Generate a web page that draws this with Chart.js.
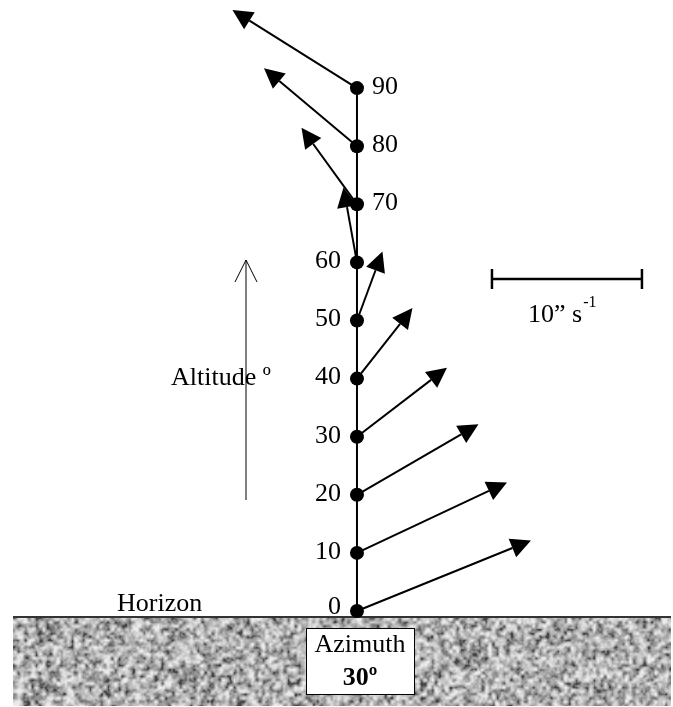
<!DOCTYPE html>
<html>
<head>
<meta charset="utf-8">
<script src="https://cdn.jsdelivr.net/npm/chart.js@4.4.0/dist/chart.umd.min.js"></script>
<style>
    html, body { margin: 0; padding: 0; background: #fff; }
    canvas { display: block; }
</style>
</head>
<body>
<canvas id="grafico" width="673" height="707"></canvas>
<script>
// Altitudes (graus) ao longo do azimute 30º
const altitudes = [0, 10, 20, 30, 40, 50, 60, 70, 80, 90];
// Componentes dos vetores de velocidade (" s^-1)
const velX = [11.6, 10.0, 8.1, 6.0, 3.7, 1.7, -0.9, -3.7, -6.2, -8.3];
const velY = [4.7, 4.7, 4.7, 4.6, 4.7, 4.6, 5.0, 5.1, 5.2, 5.2];
// Rótulos
const rotulosAltitude = altitudes.map(a => String(a));
const escalaValor = 10;
const escalaTexto = '10\u201D s';
const escalaExpoente = '-1';
const azimuteTexto = ['Azimuth', '30\u00BA'];
const horizonteTexto = 'Horizon';
const eixoTexto = 'Altitude \u00BA';

const fonte = "'Liberation Serif', 'Times New Roman', serif";

// Textura do chão (ruído determinístico, só decoração)
function ruido(i, j, semente) {
    const s = Math.sin(i * 12.9898 + j * 78.233 + semente * 37.719) * 43758.5453;
    return s - Math.floor(s);
}

function camada(w, h, cel, semente) {
    const sw = Math.ceil(w / cel) + 1, sh = Math.ceil(h / cel) + 1;
    const pequeno = document.createElement('canvas');
    pequeno.width = sw; pequeno.height = sh;
    const pc = pequeno.getContext('2d');
    const img = pc.createImageData(sw, sh);
    for (let j = 0; j < sh; j++) {
        for (let i = 0; i < sw; i++) {
            const g = Math.round(ruido(i, j, semente) * 255);
            const k = (j * sw + i) * 4;
            img.data[k] = g; img.data[k + 1] = g; img.data[k + 2] = g; img.data[k + 3] = 255;
        }
    }
    pc.putImageData(img, 0, 0);
    return pequeno;
}

function texturaChao(w, h) {
    const grande = document.createElement('canvas');
    grande.width = w; grande.height = h;
    const gc = grande.getContext('2d');
    gc.imageSmoothingEnabled = true;
    const c1 = camada(w, h, 3.6, 1);
    const c2 = camada(w, h, 2, 2);
    gc.drawImage(c1, 0, 0, c1.width * 3.6, c1.height * 3.6);
    gc.globalAlpha = 0.3;
    gc.drawImage(c2, 0, 0, c2.width * 2, c2.height * 2);
    gc.globalAlpha = 1;
    // contraste e tom
    const dados = gc.getImageData(0, 0, w, h);
    for (let k = 0; k < dados.data.length; k += 4) {
        let v = dados.data[k] / 255;
        v = 0.5 + (v - 0.5) * 1.6;
        v = Math.min(1, Math.max(0, v));
        v = Math.pow(v, 0.6);
        const g = Math.round(70 + v * 165);
        dados.data[k] = g; dados.data[k + 1] = g; dados.data[k + 2] = g;
    }
    gc.putImageData(dados, 0, 0);
    return grande;
}

function seta(ctx, x1, y1, x2, y2, comp, larg) {
    const ang = Math.atan2(y2 - y1, x2 - x1);
    const bx = x2 - comp * Math.cos(ang), by = y2 - comp * Math.sin(ang);
    ctx.beginPath();
    ctx.moveTo(x1, y1);
    ctx.lineTo(bx, by);
    ctx.stroke();
    ctx.beginPath();
    ctx.moveTo(x2, y2);
    ctx.lineTo(bx + larg * Math.sin(ang), by - larg * Math.cos(ang));
    ctx.lineTo(bx - larg * Math.sin(ang), by + larg * Math.cos(ang));
    ctx.closePath();
    ctx.fill();
}

const desenhoVetores = {
    id: 'desenhoVetores',
    beforeDatasetsDraw(chart) {
        const ctx = chart.ctx;
        const xs = chart.scales.x, ys = chart.scales.y;
        const x0 = xs.getPixelForValue(0);
        const pxUnidade = xs.getPixelForValue(1) - xs.getPixelForValue(0);
        const yHorizonte = ys.getPixelForValue(0) + 6;
        ctx.save();

        // chão
        const chaoX = 13, chaoW = chart.width - chaoX - 2;
        const chaoH = chart.height - yHorizonte;
        ctx.drawImage(texturaChao(chaoW, chaoH), chaoX, yHorizonte);
        ctx.strokeStyle = '#333';
        ctx.lineWidth = 2;
        ctx.beginPath();
        ctx.moveTo(chaoX, yHorizonte);
        ctx.lineTo(chaoX + chaoW, yHorizonte);
        ctx.stroke();

        // vetores
        ctx.strokeStyle = '#000';
        ctx.fillStyle = '#000';
        ctx.lineWidth = 2;
        altitudes.forEach((alt, i) => {
            const y = ys.getPixelForValue(alt);
            seta(ctx, x0, y, x0 + velX[i] * pxUnidade, y - velY[i] * pxUnidade, 20, 10);
        });

        // rótulos de altitude
        ctx.font = '26px ' + fonte;
        ctx.textBaseline = 'middle';
        altitudes.forEach((alt, i) => {
            const y = ys.getPixelForValue(alt) - 1;
            if (alt >= 70) {
                ctx.textAlign = 'left';
                ctx.fillText(rotulosAltitude[i], x0 + 15, y);
            } else {
                ctx.textAlign = 'right';
                ctx.fillText(rotulosAltitude[i], x0 - 16, alt === 0 ? y - 3 : y);
            }
        });

        // horizonte e eixo
        ctx.textAlign = 'left';
        ctx.textBaseline = 'alphabetic';
        ctx.fillText(horizonteTexto, 117, yHorizonte - 6);
        ctx.textBaseline = 'middle';
        ctx.fillText(eixoTexto, 171, 378);

        // seta da altitude
        ctx.lineWidth = 1;
        ctx.beginPath();
        ctx.moveTo(246, 500);
        ctx.lineTo(246, 260);
        ctx.moveTo(235, 282);
        ctx.lineTo(246, 260);
        ctx.lineTo(257, 282);
        ctx.stroke();

        // barra de escala
        const ex1 = xs.getPixelForValue(9), ex2 = xs.getPixelForValue(9 + escalaValor);
        const ey = 279;
        ctx.lineWidth = 2.5;
        ctx.beginPath();
        ctx.moveTo(ex1, ey); ctx.lineTo(ex2, ey);
        ctx.moveTo(ex1, ey - 10); ctx.lineTo(ex1, ey + 10);
        ctx.moveTo(ex2, ey - 10); ctx.lineTo(ex2, ey + 10);
        ctx.stroke();
        ctx.textBaseline = 'alphabetic';
        ctx.textAlign = 'left';
        ctx.font = '26px ' + fonte;
        ctx.fillText(escalaTexto, 528, 322);
        const wTexto = ctx.measureText(escalaTexto).width;
        ctx.font = '16px ' + fonte;
        ctx.fillText(escalaExpoente, 528 + wTexto + 1, 307);

        // caixa do azimute
        const bx = 306, by = yHorizonte + 11, bw = 108, bh = 66;
        ctx.fillStyle = '#fff';
        ctx.fillRect(bx, by, bw, bh);
        ctx.strokeStyle = '#000';
        ctx.lineWidth = 1;
        ctx.strokeRect(bx + 0.5, by + 0.5, bw, bh);
        ctx.fillStyle = '#000';
        ctx.textAlign = 'center';
        ctx.textBaseline = 'middle';
        ctx.font = '26px ' + fonte;
        ctx.fillText(azimuteTexto[0], bx + bw / 2, by + 17);
        ctx.font = 'bold 26px ' + fonte;
        ctx.fillText(azimuteTexto[1], bx + bw / 2, by + 50);

        ctx.restore();
    }
};

new Chart(document.getElementById('grafico').getContext('2d'), {
    type: 'scatter',
    data: {
        datasets: [{
            data: altitudes.map(a => ({ x: 0, y: a })),
            showLine: true,
            borderColor: '#000',
            borderWidth: 2,
            pointRadius: 7,
            pointBackgroundColor: '#000',
            pointBorderWidth: 0
        }]
    },
    options: {
        responsive: false,
        animation: false,
        layout: { padding: 0, autoPadding: false },
        scales: {
            x: { type: 'linear', display: false, min: -23.8, max: 21.07 },
            y: { type: 'linear', display: false, min: -16.52, max: 105.16 }
        },
        plugins: { legend: { display: false }, tooltip: { enabled: false } }
    },
    plugins: [desenhoVetores]
});
</script>
</body>
</html>
